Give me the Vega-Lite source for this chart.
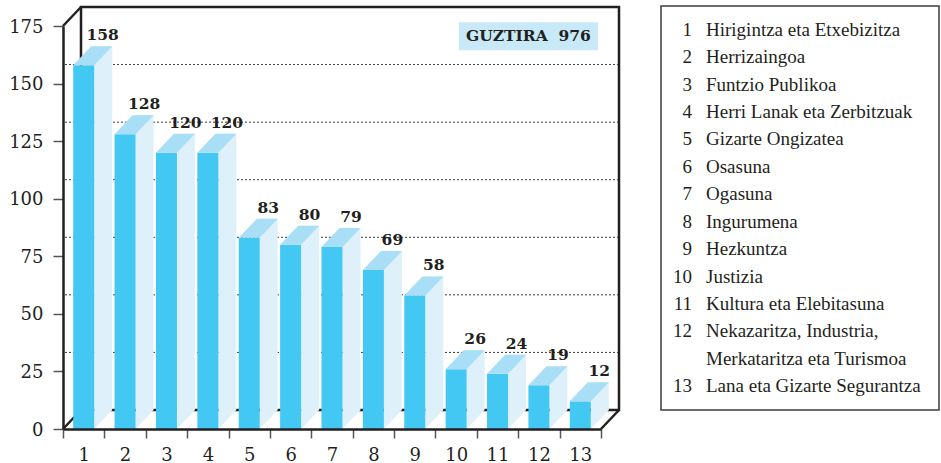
{
  "$schema": "https://vega.github.io/schema/vega-lite/v6.json",
  "background": "white",
  "padding": {"left": 8, "top": 5, "right": 0, "bottom": 0},
  "spacing": 39,
  "config": {"view": {"stroke": null}, "font": "DejaVu Serif"},
  "datasets": {
    "items": [
      {"cat": "1", "value": 158},
      {"cat": "2", "value": 128},
      {"cat": "3", "value": 120},
      {"cat": "4", "value": 120},
      {"cat": "5", "value": 83},
      {"cat": "6", "value": 80},
      {"cat": "7", "value": 79},
      {"cat": "8", "value": 69},
      {"cat": "9", "value": 58},
      {"cat": "10", "value": 26},
      {"cat": "11", "value": 24},
      {"cat": "12", "value": 19},
      {"cat": "13", "value": 12}
    ],
    "grid": [{"g": 25}, {"g": 50}, {"g": 75}, {"g": 100}, {"g": 125}, {"g": 150}],
    "legend": [
      {"num": "1", "name": "Hirigintza eta Etxebizitza"},
      {"num": "2", "name": "Herrizaingoa"},
      {"num": "3", "name": "Funtzio Publikoa"},
      {"num": "4", "name": "Herri Lanak eta Zerbitzuak"},
      {"num": "5", "name": "Gizarte Ongizatea"},
      {"num": "6", "name": "Osasuna"},
      {"num": "7", "name": "Ogasuna"},
      {"num": "8", "name": "Ingurumena"},
      {"num": "9", "name": "Hezkuntza"},
      {"num": "10", "name": "Justizia"},
      {"num": "11", "name": "Kultura eta Elebitasuna"},
      {"num": "12", "name": "Nekazaritza, Industria,"},
      {"num": "", "name": "Merkataritza eta Turismoa"},
      {"num": "13", "name": "Lana eta Gizarte Segurantza"}
    ]
  },
  "hconcat": [
    {
      "width": 538,
      "height": 403,
      "layer": [
        {
          "data": {"name": "grid"},
          "mark": {"type": "rule", "color": "#3a3a3a", "strokeWidth": 1, "strokeDash": [2, 2], "xOffset": 18, "x2Offset": 18, "yOffset": -19},
          "encoding": {
            "y": {
              "field": "g", "type": "quantitative", "scale": {"domain": [0, 175], "nice": false},
              "axis": {
                "title": null, "values": [0, 25, 50, 75, 100, 125, 150, 175], "grid": false, "tickSize": 10, "tickWidth": 1.5,
                "tickColor": "#555555", "domainColor": "#231f20", "domainWidth": 2.5, "labelFont": "DejaVu Serif",
                "labelFontSize": 18, "labelColor": "#231f20", "labelPadding": 10, "labelOffset": 1, "zindex": 1
              }
            }
          }
        },
        {
          "data": {"values": [{}]},
          "mark": {"type": "rect", "fillOpacity": 0, "stroke": "#231f20", "strokeWidth": 2.5, "xOffset": 18, "x2Offset": 18, "yOffset": -19, "y2Offset": -19},
          "encoding": {
            "x": {"value": 0},
            "x2": {"value": "width"},
            "y": {"datum": 175},
            "y2": {"datum": 0}
          }
        },
        {
          "data": {"values": [{}]},
          "mark": {"type": "rule", "color": "#231f20", "strokeWidth": 2.5, "x2Offset": 18, "y2Offset": -19},
          "encoding": {"x": {"value": 0}, "x2": {"value": 0}, "y": {"datum": 175}, "y2": {"datum": 175}}
        },
        {
          "data": {"values": [{}]},
          "mark": {"type": "rule", "color": "#231f20", "strokeWidth": 2.5, "x2Offset": 18, "y2Offset": -19},
          "encoding": {"x": {"value": 0}, "x2": {"value": 0}, "y": {"datum": 0}, "y2": {"datum": 0}}
        },
        {
          "data": {"values": [{}]},
          "mark": {"type": "rule", "color": "#231f20", "strokeWidth": 2.5, "x2Offset": 18, "y2Offset": -19},
          "encoding": {"x": {"value": "width"}, "x2": {"value": "width"}, "y": {"datum": 0}, "y2": {"datum": 0}}
        },
        {
          "data": {"name": "items"},
          "mark": {"type": "bar", "width": 18, "color": "#DEF1FB", "xOffset": 19.5, "yOffset": -19, "y2Offset": -19},
          "encoding": {
            "x": {
              "field": "cat", "type": "ordinal", "sort": null,
              "scale": {"paddingInner": 0, "paddingOuter": 0},
              "axis": {
                "title": null, "labelAngle": 0, "tickBand": "extent", "tickSize": 9, "tickWidth": 1.5, "tickColor": "#555555",
                "domainColor": "#231f20", "domainWidth": 2.5, "labelFont": "DejaVu Serif", "labelFontSize": 18,
                "labelColor": "#231f20", "labelPadding": 8, "zindex": 1
              }
            },
            "y": {"field": "value", "type": "quantitative", "axis": {"title": null}},
            "y2": {"datum": 0}
          }
        },
        {
          "data": {"name": "items"},
          "mark": {"type": "point", "shape": "M10.5,-19L28.5,-19L10.5,0Z", "size": 4, "filled": true, "opacity": 1, "color": "#DEF1FB", "strokeWidth": 0},
          "encoding": {"x": {"field": "cat", "type": "ordinal", "sort": null}, "y": {"datum": 0}}
        },
        {
          "data": {"name": "items"},
          "mark": {"type": "bar", "width": 21, "color": "#43C8F4"},
          "encoding": {
            "x": {"field": "cat", "type": "ordinal", "sort": null},
            "y": {"field": "value", "type": "quantitative", "axis": {"title": null}},
            "y2": {"datum": 0}
          }
        },
        {
          "data": {"name": "items"},
          "mark": {"type": "point", "shape": "M-10.5,0L10.5,0L28.5,-19L7.5,-19Z", "size": 4, "filled": true, "opacity": 1, "color": "#A8DFF7", "strokeWidth": 0},
          "encoding": {"x": {"field": "cat", "type": "ordinal", "sort": null}, "y": {"field": "value", "type": "quantitative", "axis": {"title": null}}}
        },
        {
          "data": {"name": "items"},
          "mark": {"type": "text", "dx": 19, "dy": -25, "baseline": "alphabetic", "font": "DejaVu Serif", "fontWeight": "bold", "fontSize": 15.5, "color": "#231f20"},
          "encoding": {
            "x": {"field": "cat", "type": "ordinal", "sort": null},
            "y": {"field": "value", "type": "quantitative", "axis": {"title": null}},
            "text": {"field": "value", "type": "quantitative"}
          }
        },
        {
          "data": {"values": [{}]},
          "mark": {"type": "point", "shape": "M-80,-14H59V14H-80Z", "size": 4, "filled": true, "opacity": 1, "color": "#C7E9F8", "strokeWidth": 0},
          "encoding": {"x": {"datum": "12"}, "y": {"datum": 170.5}}
        },
        {
          "data": {"values": [{}]},
          "mark": {"type": "text", "text": "GUZTIRA\u00a0 976", "dx": -10.5, "baseline": "middle", "font": "DejaVu Serif", "fontWeight": "bold", "fontSize": 15.5, "color": "#231f20"},
          "encoding": {"x": {"datum": "12"}, "y": {"datum": 170.5}}
        }
      ]
    },
    {
      "width": 278,
      "height": 404,
      "layer": [
        {
          "data": {"values": [{}]},
          "mark": {"type": "rect", "fillOpacity": 0, "stroke": "#3c3c3c", "strokeWidth": 1.5, "yOffset": -20, "y2Offset": -20},
          "encoding": {"x": {"value": 0}, "x2": {"value": "width"}, "y": {"value": 0}, "y2": {"value": "height"}}
        },
        {
          "data": {"name": "legend"},
          "mark": {"type": "text", "align": "right", "baseline": "middle", "font": "Liberation Serif", "fontSize": 19, "color": "#231f20", "yOffset": -20},
          "encoding": {
            "y": {"field": "name", "type": "nominal", "sort": null, "scale": {"type": "point", "padding": 0.87}, "axis": null},
            "x": {"value": 31},
            "text": {"field": "num"}
          }
        },
        {
          "data": {"name": "legend"},
          "mark": {"type": "text", "align": "left", "baseline": "middle", "font": "Liberation Serif", "fontSize": 19, "color": "#231f20", "yOffset": -20},
          "encoding": {
            "y": {"field": "name", "type": "nominal", "sort": null, "axis": null},
            "x": {"value": 45},
            "text": {"field": "name"}
          }
        }
      ]
    }
  ]
}
